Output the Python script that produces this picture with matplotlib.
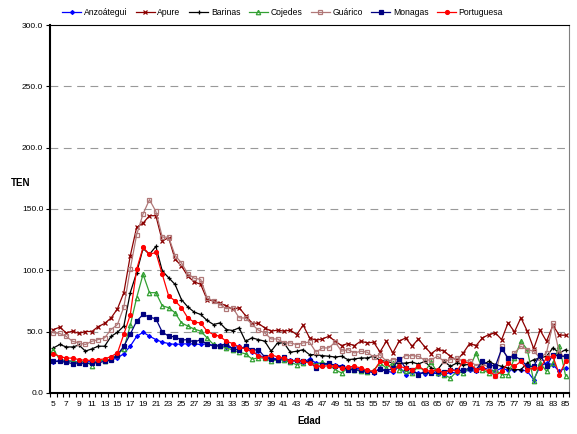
import matplotlib
matplotlib.use("Agg")
import matplotlib.pyplot as plt
import numpy as np
from matplotlib.ticker import MultipleLocator, FixedLocator

plt.rcParams['font.family'] = ['Liberation Sans Narrow', 'Liberation Sans', 'DejaVu Sans']

ages = list(range(5, 86))

anzoategui = [24.9, 26.5, 25.7, 25.7, 24.9, 25.7, 25.7, 25.7, 26.5, 27.0, 28.3, 32.0, 38.0, 46.0, 49.4,
              46.2, 43.4, 41.3, 40.2, 39.4, 39.9, 39.9, 39.9, 39.4, 39.9, 38.5, 38.9, 37.4, 36.6, 38.0, 35.8, 33.5,
              31.1, 28.4, 28.4, 27.6, 27.0, 26.5, 25.6, 24.9, 27.6, 24.3, 23.8, 22.9, 22.9, 21.6, 20.2, 20.2,
              19.4, 18.3, 16.1, 20.2, 17.5, 16.7, 21.6, 14.8, 16.7, 16.1, 15.6, 16.1, 15.6, 14.8, 16.7, 16.1,
              17.5, 18.3, 17.5, 20.2, 19.4, 17.5, 20.2, 18.3, 18.9, 18.9, 17.5, 10.7, 21.6, 24.3, 22.9, 17.5, 20.2]

apure = [51.6, 53.5, 48.9, 50.3, 48.4, 50.0, 50.0, 54.0, 56.6, 61.0, 68.5, 81.7, 111.7, 135.0, 138.5, 144.5, 144.5,
         124.0, 126.5, 109.0, 103.5, 95.0, 90.5, 88.5, 76.0, 74.9, 73.0, 71.0, 68.0, 69.5, 63.0, 57.0,
         56.6, 53.0, 50.3, 51.1, 50.3, 51.1, 47.5, 55.2, 44.8, 42.9, 43.9, 46.1, 42.1, 38.5, 40.2, 38.5,
         42.1, 40.7, 41.3, 33.3, 42.1, 32.5, 42.1, 44.8, 38.0, 43.9, 37.4, 32.0, 35.8, 33.9, 29.8, 26.5,
         32.5, 40.2, 38.5, 44.8, 47.5, 48.9, 43.4, 57.1, 49.7, 61.2, 50.3, 36.0, 51.0, 42.0, 55.0, 47.0, 47.0]

barinas = [36.6, 39.4, 37.4, 37.4, 38.9, 34.0, 35.8, 38.0, 38.0, 46.0, 49.4, 54.4, 81.7, 98.0, 117.8, 113.0, 119.4,
           99.4, 93.9, 88.4, 76.0, 70.0, 65.8, 63.9, 59.0, 55.7, 57.0, 51.6, 50.8, 53.0, 42.0, 44.8,
           43.4, 42.1, 33.9, 40.7, 40.7, 33.1, 33.9, 35.2, 31.1, 31.1, 30.3, 29.8, 29.2, 29.8, 27.0, 27.6,
           28.4, 28.4, 29.8, 26.5, 25.6, 24.3, 23.8, 24.3, 24.9, 23.5, 25.6, 20.2, 18.9, 25.6, 21.6, 24.3,
           22.9, 22.9, 18.9, 22.9, 25.6, 22.9, 21.6, 20.2, 18.9, 18.9, 24.3, 27.0, 28.4, 29.8, 36.6, 32.5, 35.2]

cojedes = [35.2, 27.0, 26.5, 25.7, 24.9, 25.7, 22.2, 27.0, 25.7, 27.6, 31.2, 36.0, 55.0, 77.6, 96.7, 81.7, 81.7,
           71.0, 69.4, 65.3, 57.0, 54.4, 52.0, 50.3, 44.8, 39.4, 38.0, 36.6, 35.0, 33.1, 31.8, 27.6,
           28.4, 28.4, 25.6, 27.0, 26.5, 24.9, 22.9, 24.3, 25.6, 22.9, 24.9, 22.9, 18.9, 16.1, 20.2, 18.9,
           17.5, 16.7, 18.3, 24.3, 20.2, 24.3, 18.9, 17.5, 16.1, 21.6, 17.5, 24.9, 16.1, 14.8, 12.0, 17.5,
           16.1, 20.2, 32.5, 18.9, 16.1, 18.9, 14.8, 14.8, 28.4, 42.1, 35.2, 9.3, 24.3, 17.5, 24.3, 38.0, 13.4]

guarico = [48.9, 48.4, 46.0, 42.0, 40.7, 39.4, 42.0, 43.4, 44.8, 51.6, 55.7, 70.0, 101.0, 129.0, 146.0, 157.6, 148.0,
           127.0, 127.0, 112.0, 106.0, 97.0, 93.5, 92.5, 77.5, 74.9, 72.0, 68.6, 69.5, 61.2, 61.0, 56.0,
           51.1, 48.9, 43.9, 43.9, 40.7, 40.7, 39.3, 40.7, 41.3, 33.1, 36.6, 36.6, 41.3, 33.9, 35.2, 32.5,
           33.9, 33.1, 29.2, 31.1, 25.6, 27.0, 27.0, 30.3, 30.3, 29.8, 26.5, 27.0, 29.8, 25.6, 27.0, 28.4,
           25.6, 26.2, 22.1, 24.3, 20.2, 13.4, 38.0, 27.0, 32.5, 38.0, 35.2, 33.9, 28.4, 32.5, 56.6, 32.5, 28.4]

monagas = [25.7, 25.7, 24.9, 23.8, 24.4, 23.8, 24.4, 24.4, 25.7, 26.5, 31.0, 38.0, 47.8, 58.5, 63.9, 61.7, 60.4,
           49.5, 46.2, 45.6, 43.0, 43.4, 41.3, 43.4, 39.4, 38.5, 38.0, 40.2, 35.8, 35.2, 38.0, 34.7,
           35.2, 29.2, 27.6, 27.0, 29.2, 25.6, 27.0, 25.6, 25.6, 20.2, 22.9, 24.3, 22.1, 21.0, 18.9, 18.9,
           18.3, 17.5, 16.7, 19.4, 17.5, 20.2, 27.6, 20.2, 18.9, 14.8, 17.5, 16.1, 17.5, 16.7, 18.9, 18.3,
           18.3, 20.2, 18.9, 25.6, 22.9, 21.6, 35.8, 28.4, 29.8, 27.0, 21.6, 21.6, 31.1, 21.6, 31.1, 29.8, 29.8]

portuguesa = [32.0, 29.6, 28.3, 28.3, 27.0, 26.5, 26.5, 27.0, 27.6, 29.6, 32.5, 47.8, 63.5, 100.8, 118.6, 113.0, 114.5,
              96.7, 79.0, 75.0, 69.4, 61.0, 57.6, 57.0, 50.3, 47.5, 46.0, 42.0, 40.2, 37.4, 35.8, 34.0,
              30.3, 28.4, 31.1, 29.2, 28.4, 25.6, 26.5, 25.6, 24.3, 21.6, 21.6, 22.1, 21.6, 20.2, 21.0, 21.6,
              20.2, 18.3, 17.5, 25.6, 24.3, 18.9, 21.6, 20.2, 18.3, 21.6, 18.3, 17.5, 18.9, 16.1, 18.9, 17.5,
              25.6, 23.8, 18.9, 20.2, 17.5, 14.0, 17.5, 24.3, 21.6, 25.6, 18.9, 20.2, 20.2, 28.4, 29.8, 14.8, 25.6]

# name, values, colour, marker, marker face, marker size
series = [
    ("Anzoátegui", anzoategui, "#0000FF", "D", "#0000FF", 2.0),
    ("Apure", apure, "#8B0000", "x", "#8B0000", 3.2),
    ("Barinas", barinas, "#000000", "+", "#000000", 3.2),
    ("Cojedes", cojedes, "#33A033", "^", "none", 3.2),
    ("Guárico", guarico, "#B07878", "s", "none", 3.0),
    ("Monagas", monagas, "#000080", "s", "#000080", 3.0),
    ("Portuguesa", portuguesa, "#FF0000", "o", "#FF0000", 2.8),
]

fig = plt.figure(figsize=(5.77, 4.34), dpi=100)
ax = fig.add_axes([0.087, 0.095, 0.899, 0.847])

for name, vals, col, mk, fc, ms in series:
    ax.plot(ages, vals, color=col, lw=0.9, marker=mk, markersize=ms,
            markerfacecolor=fc, markeredgecolor=col, markeredgewidth=0.9, label=name)

ax.set_xlim(4.5, 85.5)
ax.set_ylim(0, 300)
ax.yaxis.set_major_locator(MultipleLocator(50))
ax.yaxis.set_major_formatter(plt.FuncFormatter(lambda v, p: f"{v:.1f}"))
ax.xaxis.set_major_locator(FixedLocator(list(range(5, 86, 2))))
ax.xaxis.set_minor_locator(FixedLocator([a + 0.5 for a in range(4, 86)]))
ax.tick_params(axis="both", which="major", labelsize=6, length=3, width=0.8, direction="out", pad=2)
ax.tick_params(axis="x", which="major", length=0, pad=6)
ax.tick_params(axis="x", which="minor", length=3, width=0.8, direction="out")

for y in range(50, 300, 50):
    ax.axhline(y, color="#999999", lw=0.8, ls=(0, (7, 5)), zorder=0)

for s in ["left", "bottom", "top"]:
    ax.spines[s].set_color("black")
ax.spines["left"].set_linewidth(1.5)
ax.spines["bottom"].set_linewidth(1.5)
ax.spines["top"].set_linewidth(0.8)
ax.spines["right"].set_color("#808080")
ax.spines["right"].set_linewidth(0.8)

ax.set_xlabel("Edad", fontsize=7, fontweight="bold", labelpad=6)
fig.text(0.035, 0.578, "TEN", fontsize=7, fontweight="bold", ha="center", va="center")

fig.legend(loc="center", bbox_to_anchor=(0.49, 0.972), ncol=7, frameon=False, fontsize=6.2,
           handlelength=2.2, handletextpad=0.3, columnspacing=1.0, borderaxespad=0)

fig.savefig("out.png", dpi=100)
